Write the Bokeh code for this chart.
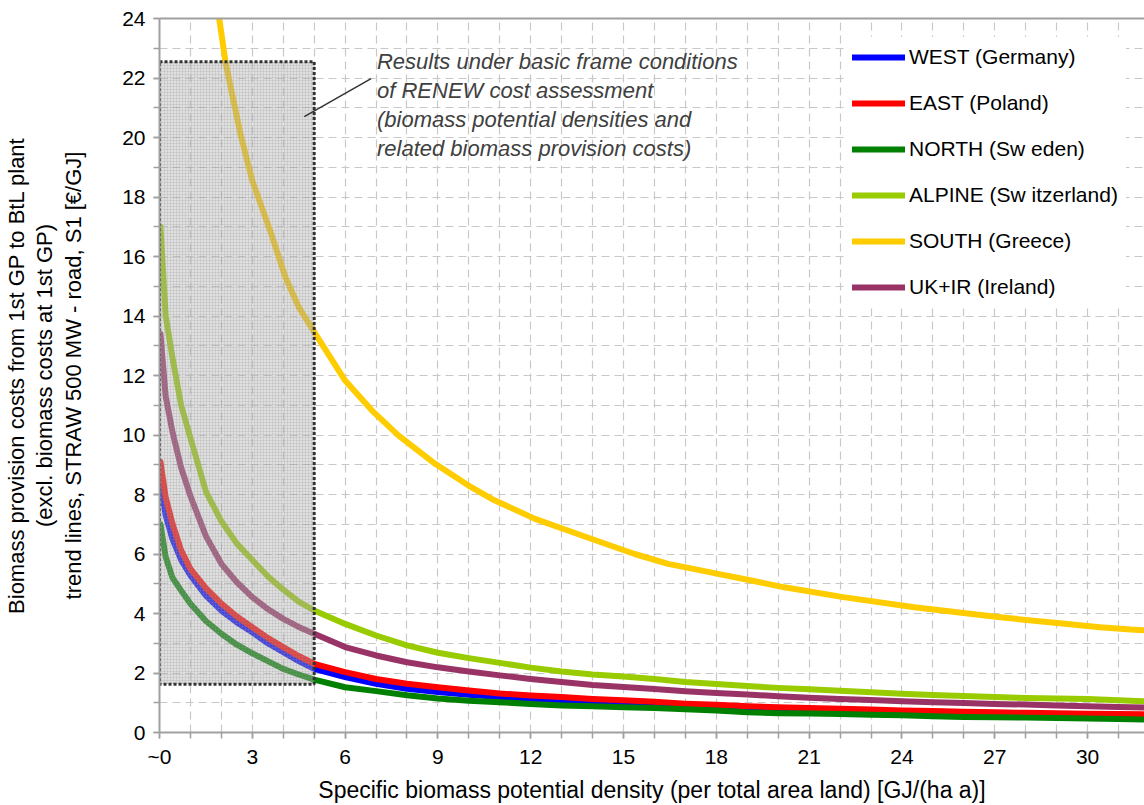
from bokeh.plotting import figure
from bokeh.models import (Range1d, SingleIntervalTicker, LinearAxis, Legend, LegendItem,
                          ColumnDataSource)
from bokeh.core.properties import value
from bokeh.embed import file_html
from bokeh.resources import INLINE

# ---------------- data ----------------
x_common = [0.03, 0.2, 0.42, 0.7, 1.0, 1.5, 2.0, 2.5, 3.0, 3.5, 4.0, 4.5, 5.0,
            6, 7, 8, 9, 10, 11, 12, 13, 14, 15, 16, 17, 18, 19, 20, 21, 22, 23,
            24, 25, 26, 27, 28, 29, 30, 31, 31.8]

west = [8.4, 7.3, 6.5, 5.8, 5.28, 4.6, 4.1, 3.7, 3.37, 3.0, 2.7, 2.4, 2.14,
        1.86, 1.64, 1.47, 1.36, 1.27, 1.19, 1.12, 1.07, 1.02, 0.97, 0.93, 0.88,
        0.84, 0.8, 0.77, 0.74, 0.71, 0.68, 0.66, 0.64, 0.62, 0.6, 0.58, 0.56,
        0.55, 0.53, 0.52]

east = [9.1, 7.9, 7.02, 6.12, 5.5, 4.85, 4.33, 3.9, 3.54, 3.18, 2.87, 2.57, 2.31,
        2.03, 1.8, 1.64, 1.52, 1.41, 1.31, 1.24, 1.19, 1.13, 1.08, 1.03, 0.97,
        0.93, 0.88, 0.85, 0.82, 0.8, 0.77, 0.74, 0.72, 0.7, 0.68, 0.66, 0.65,
        0.63, 0.62, 0.61]

north = [7.0, 5.9, 5.2, 4.77, 4.33, 3.75, 3.32, 2.95, 2.66, 2.4, 2.14, 1.95, 1.78,
         1.52, 1.39, 1.25, 1.14, 1.07, 1.02, 0.96, 0.91, 0.88, 0.85, 0.82, 0.78,
         0.74, 0.68, 0.65, 0.64, 0.62, 0.6, 0.58, 0.55, 0.52, 0.51, 0.5, 0.49,
         0.47, 0.45, 0.44]

alpine = [17.0, 14.0, 12.6, 11.0, 9.9, 8.1, 7.1, 6.35, 5.8, 5.25, 4.8, 4.4, 4.1,
          3.65, 3.26, 2.93, 2.68, 2.5, 2.34, 2.18, 2.05, 1.95, 1.88, 1.8, 1.7,
          1.63, 1.56, 1.5, 1.45, 1.4, 1.35, 1.3, 1.26, 1.23, 1.19, 1.16, 1.14,
          1.13, 1.08, 1.05]

ukir = [13.4, 11.3, 10.1, 8.9, 7.95, 6.6, 5.67, 5.05, 4.55, 4.15, 3.82, 3.55, 3.32,
        2.87, 2.59, 2.36, 2.19, 2.05, 1.92, 1.8, 1.7, 1.6, 1.53, 1.46, 1.39,
        1.33, 1.28, 1.22, 1.17, 1.13, 1.09, 1.05, 1.02, 0.99, 0.96, 0.94, 0.91,
        0.88, 0.86, 0.84]

x_south = [1.85, 1.93, 2.14, 2.62, 3.0, 3.6, 4.07, 4.5, 5.04, 6.0, 6.87, 7.73,
           8.91, 9.99, 10.74, 12.14, 13.2, 14.18, 15.36, 16.44, 17.5, 18.05,
           19.13, 20.2, 22.1, 24.4, 27.1, 29.1, 30.4, 31.4, 31.8]
south = [24.6, 24.0, 22.5, 20.1, 18.55, 16.8, 15.3, 14.3, 13.4, 11.83, 10.82, 9.98,
         9.03, 8.3, 7.85, 7.18, 6.79, 6.43, 6.0, 5.67, 5.45, 5.33,
         5.11, 4.88, 4.55, 4.21, 3.88, 3.67, 3.54, 3.46, 3.44]

series_names = ["WEST (Germany)", "EAST (Poland)", "NORTH (Sw eden)",
                "ALPINE (Sw itzerland)", "SOUTH (Greece)", "UK+IR (Ireland)"]
series_colors = ["#0000FF", "#FF0000", "#008000", "#99CC00", "#FFCC00", "#993366"]

# highlighted range of basic frame conditions
box_x = [0.0, 5.0]
box_y = [1.62, 22.55]

note_lines = ["Results under basic frame conditions",
              "of RENEW cost assessment",
              "(biomass potential densities and",
              "related biomass provision costs)"]
note_x = [7.03, 7.03, 7.03, 7.03]
note_y = [22.55, 21.58, 20.6, 19.63]
leader_x = [4.68, 6.84]
leader_y = [20.7, 21.98]

x_label = "Specific biomass potential density (per total area land) [GJ/(ha a)]"
y_label = ("Biomass provision costs from 1st GP to BtL plant\n"
           "(excl. biomass costs at 1st GP)\n"
           "trend lines, STRAW 500 MW - road, S1 [€/GJ]")

FONT = "Liberation Sans"

# ---------------- figure ----------------
p = figure(width=1144, height=805, output_backend="svg", toolbar_location=None,
           x_range=Range1d(0, 31.84), y_range=Range1d(0, 24),
           min_border_left=157, min_border_top=18, min_border_right=0,
           min_border_bottom=73)
p.background_fill_color = "white"
p.border_fill_color = "white"
p.outline_line_color = None

# axes
for ax in (p.xaxis[0], p.yaxis[0]):
    ax.axis_line_color = "#a0a0a0"
    ax.axis_line_width = 2
    ax.major_tick_line_color = "#a0a0a0"
    ax.minor_tick_line_color = "#a0a0a0"
    ax.major_tick_line_width = 1.5
    ax.minor_tick_line_width = 1.5
    ax.major_tick_in = 0
    ax.minor_tick_in = 0
    ax.major_tick_out = 6
    ax.minor_tick_out = 6
    ax.major_label_text_font = FONT
    ax.major_label_text_font_size = "21px"
    ax.major_label_text_color = "black"
    ax.axis_label_text_font = FONT
    ax.axis_label_text_font_style = "normal"
    ax.axis_label_text_color = "black"

p.xaxis.ticker = SingleIntervalTicker(interval=3, num_minor_ticks=3)
p.yaxis.ticker = SingleIntervalTicker(interval=2, num_minor_ticks=2)
p.xaxis.major_label_overrides = {0: "~0"}
p.xaxis.major_label_standoff = 6
p.yaxis.major_label_standoff = 8
p.xaxis.axis_label = x_label
p.xaxis.axis_label_text_font_size = "23px"
p.xaxis.axis_label_standoff = 6
p.yaxis.axis_label = y_label
p.yaxis.axis_label_text_font_size = "22px"
p.yaxis.axis_label_text_line_height = 1.15
p.yaxis.axis_label_standoff = 33

top_axis = LinearAxis(axis_line_color="#a0a0a0", axis_line_width=2,
                      major_tick_line_color=None, minor_tick_line_color=None,
                      major_label_text_font_size="0px", major_label_text_alpha=0)
p.add_layout(top_axis, "above")

# grid
p.xgrid.ticker = SingleIntervalTicker(interval=1)
p.ygrid.ticker = SingleIntervalTicker(interval=1)
for g in (p.xgrid[0], p.ygrid[0]):
    g.grid_line_color = "#c8c8c8"
    g.grid_line_dash = "8 5"
    g.grid_line_width = 1.2

# series
ys = [west, east, north, alpine, south, ukir]
renderers = []
for name, col, yv in zip(series_names, series_colors, ys):
    xs = x_south if name.startswith("SOUTH") else x_common
    r = p.line(xs, yv, line_color=col, line_width=6, line_join="round", line_cap="round")
    renderers.append(r)

# shaded box on top of lines
p.quad(left=[box_x[0]], right=[box_x[1]], bottom=[box_y[0]], top=[box_y[1]],
       fill_color="#b0b0b0", fill_alpha=0.4,
       hatch_pattern="cross", hatch_scale=3, hatch_color="#909090",
       hatch_weight=0.5, hatch_alpha=0.4,
       line_color="#333333", line_width=3, line_dash="3 2")

# annotation
p.line(leader_x, leader_y, line_color="#333333", line_width=1.5)
src = ColumnDataSource(dict(x=note_x, y=note_y, t=note_lines))
p.text(x="x", y="y", text="t", source=src, text_font=value(FONT),
       text_font_style="italic", text_font_size="22px", text_color="#404040",
       text_baseline="middle", text_align="left")

# legend
legend = Legend(items=[LegendItem(label=n, renderers=[r]) for n, r in zip(series_names, renderers)],
                location=(685, 425), orientation="vertical",
                glyph_width=53, glyph_height=24, label_height=24,
                label_standoff=4, spacing=22, padding=8, margin=0,
                label_text_font=FONT, label_text_font_size="21px",
                label_text_color="black",
                background_fill_color="white", background_fill_alpha=1.0,
                border_line_alpha=0)
p.add_layout(legend, "center")

open("out.html", "w").write(file_html(p, INLINE))
